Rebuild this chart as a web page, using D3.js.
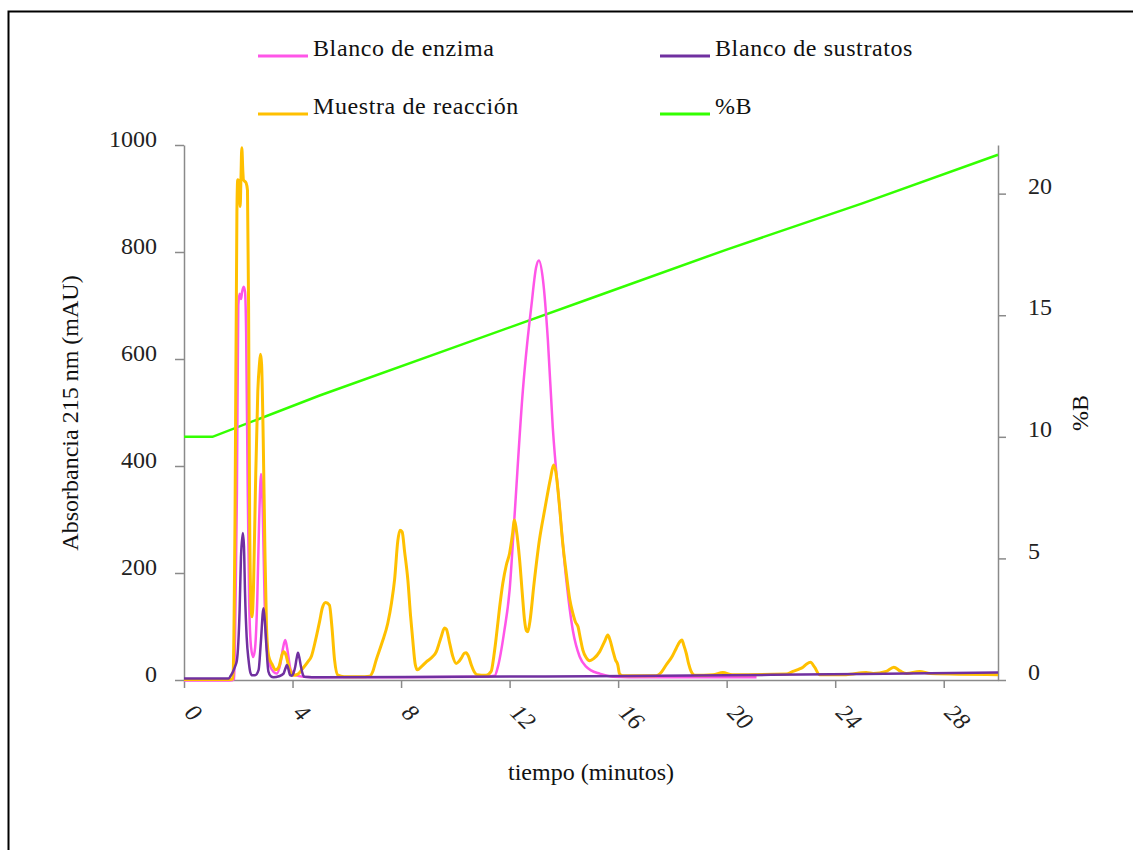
<!DOCTYPE html>
<html>
<head>
<meta charset="utf-8">
<script src="https://cdn.jsdelivr.net/npm/d3@7"></script>
<style>
  body { margin: 0; background: #fff; }
  svg { display: block; font-family: "Liberation Serif", "DejaVu Serif", serif; }
  .axis path, .axis line { stroke: #8a8a8a; stroke-width: 1.5; }
  .axis text { fill: #222; font-size: 24px; font-family: "Liberation Serif", serif; }
</style>
</head>
<body>
<div id="chart"></div>
<script>
const blancoEnzima = [
  [0, -1], [1.7, -1], [1.85, 2], [1.9, 150], [1.95, 350], [2.0, 700], [2.05, 722], [2.1, 712],
  [2.14, 725], [2.2, 735], [2.25, 725], [2.29, 650], [2.34, 400], [2.4, 150], [2.47, 62],
  [2.55, 43], [2.62, 60], [2.7, 150], [2.77, 300], [2.84, 385], [2.9, 320], [2.97, 150],
  [3.05, 60], [3.15, 30], [3.3, 15], [3.42, 12], [3.55, 30], [3.65, 60], [3.73, 75], [3.8, 60],
  [3.93, 19], [4.1, 9], [4.4, 6], [5, 5], [8, 5], [11, 6], [11.45, 8], [11.57, 25], [11.8, 90],
  [12.0, 168], [12.18, 305], [12.49, 542], [12.65, 630], [12.8, 698], [12.98, 772], [13.08, 784],
  [13.23, 748], [13.41, 636], [13.59, 473], [13.84, 324], [14.09, 187], [14.33, 93], [14.58, 44],
  [14.82, 25], [15.0, 18], [15.32, 12], [15.81, 6], [17, 5], [21.1, 5]
];

const blancoSustratos = [
  [0, 3], [1.65, 3], [1.72, 8], [1.8, 15], [1.88, 25], [1.95, 37], [2.05, 131], [2.1, 230],
  [2.17, 275], [2.21, 250], [2.25, 162], [2.31, 80], [2.38, 37], [2.44, 15], [2.5, 9], [2.62, 9],
  [2.75, 19], [2.83, 69], [2.93, 134], [2.98, 110], [3.03, 69], [3.11, 16], [3.2, 7], [3.3, 5],
  [3.5, 7], [3.67, 12], [3.74, 22], [3.79, 28], [3.85, 20], [3.91, 9], [3.98, 8], [4.05, 15],
  [4.1, 25], [4.15, 40], [4.2, 51], [4.25, 42], [4.31, 25], [4.37, 12], [4.43, 6], [5, 5],
  [10, 6], [15, 7], [20, 9], [25, 11], [30, 14]
];

const muestraReaccion = [
  [0, 1], [1.6, 1], [1.8, 2], [1.88, 300], [1.95, 875], [1.98, 935], [2.04, 930], [2.07, 885],
  [2.1, 940], [2.13, 995], [2.17, 950], [2.19, 935], [2.29, 929], [2.34, 915], [2.38, 700],
  [2.42, 300], [2.47, 140], [2.51, 118], [2.56, 170], [2.63, 350], [2.72, 540], [2.78, 590],
  [2.82, 609], [2.86, 590], [2.92, 450], [2.98, 250], [3.04, 100], [3.12, 45], [3.24, 30],
  [3.38, 19], [3.5, 25], [3.6, 45], [3.67, 53], [3.75, 48], [3.85, 28], [3.96, 12], [4.04, 9],
  [4.2, 11], [4.35, 20], [4.55, 33], [4.7, 45], [4.85, 75], [5.0, 110], [5.1, 135], [5.22, 145],
  [5.36, 140], [5.45, 100], [5.55, 37], [5.67, 9], [5.9, 6], [6.5, 6], [6.84, 7], [6.95, 15],
  [7.08, 37], [7.3, 70], [7.51, 106], [7.65, 145], [7.76, 187], [7.88, 260], [7.96, 280],
  [8.04, 277], [8.13, 240], [8.25, 187], [8.35, 120], [8.43, 75], [8.52, 30], [8.6, 19],
  [8.75, 25], [8.93, 34], [9.15, 43], [9.3, 53], [9.4, 68], [9.48, 81], [9.6, 97], [9.67, 95],
  [9.79, 69], [9.9, 45], [10.03, 31], [10.12, 34], [10.22, 41], [10.33, 50], [10.4, 51],
  [10.48, 45], [10.59, 28], [10.7, 15], [10.8, 10], [11.14, 9], [11.32, 16], [11.42, 45],
  [11.51, 81], [11.63, 135], [11.75, 181], [11.88, 215], [12.0, 237], [12.1, 270], [12.18, 299],
  [12.25, 280], [12.37, 224], [12.47, 160], [12.55, 112], [12.62, 92], [12.67, 90], [12.75, 110],
  [12.9, 180], [13.1, 262], [13.3, 320], [13.5, 375], [13.62, 402], [13.7, 390], [13.84, 324],
  [13.95, 260], [14.09, 199], [14.22, 150], [14.33, 125], [14.43, 108], [14.52, 100], [14.6, 80],
  [14.7, 56], [14.82, 42], [14.95, 36], [15.1, 40], [15.32, 53], [15.5, 72], [15.62, 84],
  [15.7, 75], [15.8, 56], [15.9, 38], [15.99, 28], [16.05, 12], [16.17, 8], [17.4, 8], [17.6, 15],
  [17.77, 28], [18.0, 45], [18.14, 59], [18.28, 72], [18.35, 75], [18.42, 65], [18.51, 50],
  [18.6, 30], [18.69, 16], [18.82, 9], [19.5, 10], [19.86, 14], [20.2, 10], [22.2, 11],
  [22.44, 16], [22.65, 20], [22.81, 24], [22.95, 30], [23.09, 33], [23.24, 24], [23.42, 10],
  [24.4, 10], [25.14, 14], [25.4, 12], [25.88, 16], [26.16, 24], [26.39, 17], [26.63, 12],
  [27.11, 16], [27.5, 12], [30, 10]
];

// gradiente: [tiempo (min), %B]
const porcentajeB = [
  [0, 10], [1.05, 10], [5, 11.7], [10, 13.7], [15, 15.7], [20, 17.7], [25, 19.6], [30, 21.6]
];

const xTicks = [0, 4, 8, 12, 16, 20, 24, 28];
const yTicks = [0, 200, 400, 600, 800, 1000];
const y2Ticks = [0, 5, 10, 15, 20];

const legendItems = [
  { label: "Blanco de enzima", color: "#ff55e8" },
  { label: "Blanco de sustratos", color: "#7030a0" },
  { label: "Muestra de reacción", color: "#ffc000" },
  { label: "%B", color: "#33ff00" }
];

const width = 1133;
const height = 850;
const plot = { left: 184, right: 998, top: 145, bottom: 680 };

const svg = d3.select("#chart").append("svg")
  .attr("width", width)
  .attr("height", height);

// marco
svg.append("path")
  .attr("d", `M8.5,${height} V11.5 H${width}`)
  .attr("fill", "none")
  .attr("stroke", "#000")
  .attr("stroke-width", 2);

const x = d3.scaleLinear().domain([0, 30]).range([plot.left, plot.right]);
const y = d3.scaleLinear().domain([0, 1000]).range([plot.bottom, plot.top]);
const y2 = d3.scaleLinear().domain([0, 22]).range([plot.bottom, plot.top]);

// ejes
const gx = svg.append("g")
  .attr("class", "axis")
  .attr("transform", `translate(0,${plot.bottom})`)
  .call(d3.axisBottom(x).tickValues(xTicks).tickSize(8).tickSizeOuter(0).tickFormat(d3.format("d")));
gx.selectAll(".tick text")
  .attr("text-anchor", "start")
  .attr("y", 0)
  .attr("dy", 0)
  .attr("transform", "translate(-1,34) rotate(45)")
  .style("font-style", "italic");

const gy = svg.append("g")
  .attr("class", "axis")
  .attr("transform", `translate(${plot.left},0)`)
  .call(d3.axisLeft(y).tickValues(yTicks).tickSize(9).tickSizeOuter(0).tickPadding(18)
    .tickFormat(d3.format("d")));
gy.selectAll(".tick text").attr("y", -6);

const gy2 = svg.append("g")
  .attr("class", "axis")
  .attr("transform", `translate(${plot.right},0)`)
  .call(d3.axisRight(y2).tickValues(y2Ticks).tickSize(8).tickSizeOuter(0).tickPadding(22));
gy2.selectAll(".tick text").attr("y", -8);

// títulos de ejes
svg.append("text")
  .attr("x", 591)
  .attr("y", 780)
  .attr("text-anchor", "middle")
  .attr("font-size", 24)
  .attr("fill", "#111")
  .text("tiempo (minutos)");

svg.append("text")
  .attr("transform", "translate(78,413) rotate(-90)")
  .attr("text-anchor", "middle")
  .attr("font-size", 24)
  .attr("fill", "#111")
  .text("Absorbancia 215 nm (mAU)");

svg.append("text")
  .attr("transform", "translate(1088,413) rotate(-90)")
  .attr("text-anchor", "middle")
  .attr("font-size", 24)
  .attr("fill", "#111")
  .text("%B");

// series
const line = d3.line()
  .x((d) => x(d[0]))
  .y((d) => y(d[1]))
  .curve(d3.curveMonotoneX);

const lineB = d3.line()
  .x((d) => x(d[0]))
  .y((d) => y2(d[1]));

svg.append("path")
  .datum(porcentajeB)
  .attr("fill", "none")
  .attr("stroke", legendItems[3].color)
  .attr("stroke-width", 2.5)
  .attr("d", lineB);

[[blancoEnzima, legendItems[0].color, 2.5],
 [muestraReaccion, legendItems[2].color, 3],
 [blancoSustratos, legendItems[1].color, 2.5]].forEach(([data, color, w]) => {
  svg.append("path")
    .datum(data)
    .attr("fill", "none")
    .attr("stroke", color)
    .attr("stroke-width", w)
    .attr("stroke-linejoin", "round")
    .attr("d", line);
});

// leyenda
const legend = svg.append("g");
const legendPos = [[258, 56], [660, 56], [258, 114], [660, 114]];
legendItems.forEach((item, i) => {
  const [lx, ly] = legendPos[i];
  legend.append("line")
    .attr("x1", lx).attr("x2", lx + 50)
    .attr("y1", ly).attr("y2", ly)
    .attr("stroke", item.color)
    .attr("stroke-width", 3);
  legend.append("text")
    .attr("x", lx + 55)
    .attr("y", ly)
    .attr("font-size", 24)
    .attr("letter-spacing", 0.6)
    .attr("fill", "#111")
    .text(item.label);
});
</script>
</body>
</html>
